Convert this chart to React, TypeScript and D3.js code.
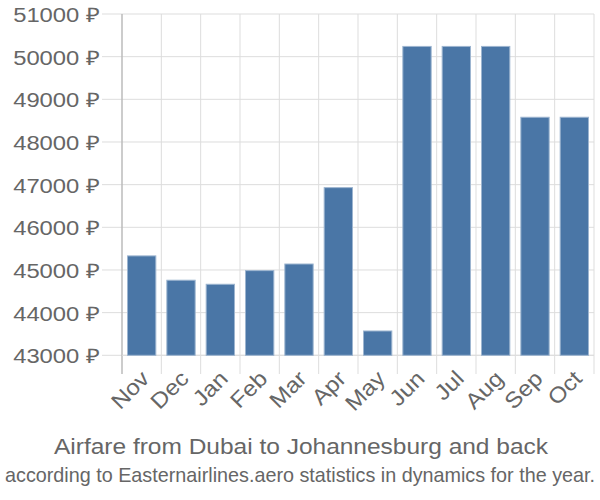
import React from "react";
import * as d3 from "d3";

const months = ["Nov", "Dec", "Jan", "Feb", "Mar", "Apr", "May", "Jun", "Jul", "Aug", "Sep", "Oct"];
const prices = [45330, 44760, 44665, 44985, 45140, 46930, 43570, 50240, 50240, 50240, 48580, 48580];
const yTicks = [43000, 44000, 45000, 46000, 47000, 48000, 49000, 50000, 51000];
const title = "Airfare from Dubai to Johannesburg and back";
const subtitle = "according to Easternairlines.aero statistics in dynamics for the year.";

const W = 600, H = 500;
const left = 122, right = 594, top = 14, bottom = 355.3;
const stretch = 1.19;
const subScale = 0.85;

export default function App() {
  const x = d3.scaleBand<string>().domain(months).range([left, right]).paddingInner(0.28).paddingOuter(0.14);
  const xb = d3.scaleBand<string>().domain(months).range([left, right]);
  const y = d3.scaleLinear().domain([43000, 51000]).range([bottom, top]);
  const font = "'Liberation Sans', Arial, sans-serif";
  const gray = "#666";
  return (
    <svg width={W} height={H} style={{ position: "absolute", left: 0, top: 0 }} fontFamily={font}>
      <rect width={W} height={H} fill="#fff" />
      {yTicks.map((t) => (
        <line key={t} x1={102} x2={right} y1={y(t)} y2={y(t)} stroke="#ddd" strokeWidth={1} />
      ))}
      {months.map((m) => (
        <line key={m} x1={xb(m)!} x2={xb(m)!} y1={top} y2={374} stroke="#ddd" strokeWidth={1} />
      ))}
      <line x1={right} x2={right} y1={top} y2={374} stroke="#ddd" />
      <line x1={left} x2={left} y1={top} y2={374} stroke="#aaa" />
      <line x1={left} x2={right} y1={bottom} y2={bottom} stroke="#ddd" />
      {months.map((m, i) => (
        <rect
          key={m}
          x={x(m)!}
          width={x.bandwidth()}
          y={y(prices[i])}
          height={bottom - y(prices[i])}
          fill="#4a76a6"
          stroke="#9db5d0"
          strokeWidth={1}
        />
      ))}
      {yTicks.map((t) => (
        <text
          key={t}
          transform={`translate(100,${y(t)}) scale(${stretch},1)`}
          dy="0.4em"
          textAnchor="end"
          fontSize={20}
          fill={gray}
        >
          {t} ₽
        </text>
      ))}
      {months.map((m) => {
        const cx = xb(m)! + xb.bandwidth() / 2 + 9;
        return (
          <text
            key={m}
            transform={`translate(${cx},${380}) rotate(-45) scale(1.1,1)`}
            textAnchor="end"
            fontSize={22}
            fill={gray}
          >
            {m}
          </text>
        );
      })}
      <text x={301} y={454} textAnchor="middle" fontSize={22} fill={gray} textLength={494} lengthAdjust="spacingAndGlyphs">
        {title}
      </text>
      <text
        transform={`translate(300,482) scale(${subScale},1)`}
        textAnchor="middle"
        fontSize={21}
        fill={gray}
        textLength={590 / subScale}
        lengthAdjust="spacingAndGlyphs"
      >
        {subtitle}
      </text>
    </svg>
  );
}
